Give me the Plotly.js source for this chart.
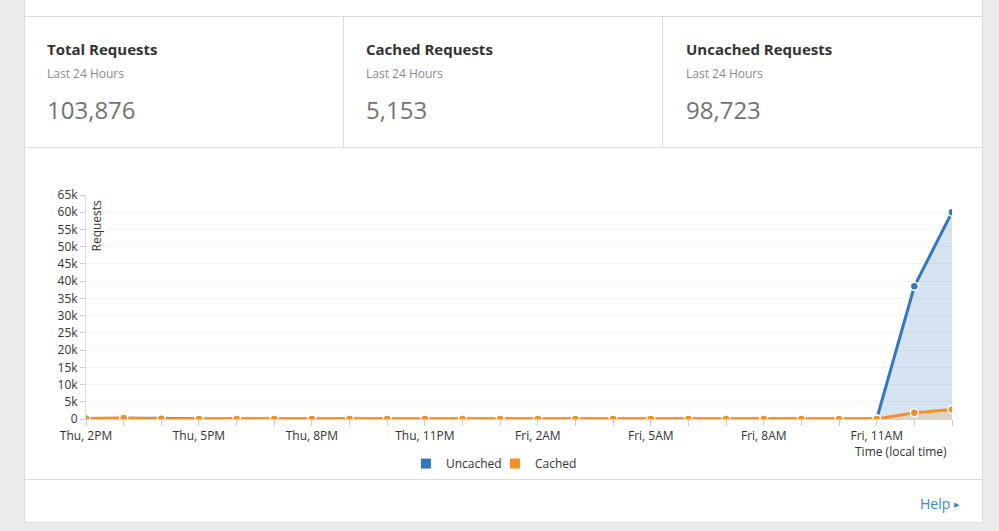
<!DOCTYPE html>
<html>
<head>
<meta charset="utf-8">
<script src="https://cdn.plot.ly/plotly-3.0.1.min.js"></script>
<style>
  html, body { margin: 0; padding: 0; background: #ebebeb; font-family: "Open Sans", sans-serif; }
  body { width: 999px; height: 531px; position: relative; overflow: hidden; }
  .panel { position: absolute; left: 24px; top: 0; width: 957px; height: 522px; background: #fff;
           border-left: 1px solid #dcdcdc; border-right: 1px solid #dcdcdc; border-bottom: 1px solid #dcdcdc; }
  .hline { position: absolute; left: 0; width: 957px; height: 1px; background: #dcdcdc; }
  .vline { position: absolute; width: 1px; background: #dcdcdc; top: 17px; height: 130px; }
  .stat-title { position: absolute; font-size: 15px; font-weight: 700; color: #333; white-space: nowrap; line-height: 20px; }
  .stat-sub { position: absolute; font-size: 12px; color: #8a8a8a; white-space: nowrap; line-height: 16px; }
  .stat-num { position: absolute; font-size: 24px; color: #737373; white-space: nowrap; line-height: 33px; }
  #chart { position: absolute; left: 0; top: 148px; width: 957px; height: 331px; }
  .help { position: absolute; left: 895px; top: 494px; font-size: 14px; color: #3a87c8; white-space: nowrap; line-height: 19px; }
  .help span { font-size: 7px; vertical-align: 2px; margin-left: 4px; }
</style>
</head>
<body>
<div class="panel">
  <div class="hline" style="top:16px"></div>
  <div class="vline" style="left:318px"></div>
  <div class="vline" style="left:637px"></div>
  <div class="hline" style="top:147px"></div>
  <div class="hline" style="top:479px"></div>
  <div id="stats"></div>
  <div id="chart"></div>
  <div class="help">Help<span>&#9654;</span></div>
</div>
<script>
// ---- data ----
const statTitles = ["Total Requests", "Cached Requests", "Uncached Requests"];
const statSubtitle = "Last 24 Hours";
const statValues = ["103,876", "5,153", "98,723"];

const hours = ["Thu, 2PM","Thu, 3PM","Thu, 4PM","Thu, 5PM","Thu, 6PM","Thu, 7PM","Thu, 8PM","Thu, 9PM",
  "Thu, 10PM","Thu, 11PM","Fri, 12AM","Fri, 1AM","Fri, 2AM","Fri, 3AM","Fri, 4AM","Fri, 5AM","Fri, 6AM",
  "Fri, 7AM","Fri, 8AM","Fri, 9AM","Fri, 10AM","Fri, 11AM","Fri, 12PM","Fri, 1PM"];
const tickLabels = ["Thu, 2PM","Thu, 5PM","Thu, 8PM","Thu, 11PM","Fri, 2AM","Fri, 5AM","Fri, 8AM","Fri, 11AM"];

const uncached = [180, 280, 230, 0, 0, 0, 0, 0, 0, 0, 0, 0, 0, 0, 0, 0, 0, 0, 0, 0, 0, 0, 38500, 60000];
const cached   = [120, 300, 90, 15, 10, 10, 10, 10, 10, 10, 10, 10, 10, 10, 10, 10, 10, 10, 10, 10, 10, 10, 1800, 2780];

const seriesNames = ["Uncached", "Cached"];
const yTitle = "Requests";
const xTitle = "Time (local time)";

// ---- stats header ----
const stats = document.getElementById("stats");
const colLefts = [22, 341, 661];
statTitles.forEach((t, i) => {
  const a = document.createElement("div"); a.className = "stat-title"; a.textContent = t;
  a.style.left = colLefts[i] + "px"; a.style.top = "39px"; stats.appendChild(a);
  const b = document.createElement("div"); b.className = "stat-sub"; b.textContent = statSubtitle;
  b.style.left = colLefts[i] + "px"; b.style.top = "66px"; stats.appendChild(b);
  const c = document.createElement("div"); c.className = "stat-num"; c.textContent = statValues[i];
  c.style.left = colLefts[i] + "px"; c.style.top = "93px"; stats.appendChild(c);
});

// ---- chart ----
const blue = "#3178c0", orange = "#f48f24";
const traces = [
  { type: "scatter", mode: "lines+markers", x: hours, y: uncached, name: seriesNames[0], showlegend: false,
    line: { color: blue, width: 3 }, fill: "tozeroy", fillcolor: "rgba(49,121,192,0.2)",
    marker: { color: blue, size: 8, line: { color: "#fff", width: 1.5 } }, hoverinfo: "x+y" },
  { type: "scatter", mode: "lines+markers", x: hours, y: cached, name: seriesNames[1], showlegend: false,
    line: { color: orange, width: 3 }, fill: "tozeroy", fillcolor: "rgba(244,143,36,0.2)",
    marker: { color: orange, size: 8, line: { color: "#fff", width: 1.5 } }, hoverinfo: "x+y" },
  { type: "scatter", mode: "markers", x: [null], y: [null], name: seriesNames[0],
    marker: { color: blue, symbol: "square", size: 10 } },
  { type: "scatter", mode: "markers", x: [null], y: [null], name: seriesNames[1],
    marker: { color: orange, symbol: "square", size: 10 } }
];

const font = { family: "Open Sans, sans-serif", size: 12, color: "#333" };
const layout = {
  width: 957, height: 331,
  margin: { l: 61, r: 30, t: 47, b: 60, autoexpand: false },
  paper_bgcolor: "#fff", plot_bgcolor: "#fff",
  font: font,
  showlegend: true,
  legend: { orientation: "h", x: 0.4722, xanchor: "center", y: -0.199, yanchor: "middle",
            font: font, itemwidth: 30, traceorder: "normal", entrywidth: 44, entrywidthmode: "pixels" },
  xaxis: {
    type: "category", range: [0, hours.length - 1],
    tickvals: hours, ticktext: hours.map(h => tickLabels.includes(h) ? h : ""),
    ticks: "outside", ticklen: 6, tickcolor: "#cccccc", showgrid: false,
    showline: true, linecolor: "#d4d4d4", linewidth: 1, zeroline: false,
    tickfont: font, fixedrange: true
  },
  yaxis: {
    range: [0, 65000], tick0: 0, dtick: 5000, tickformat: "~s",
    ticks: "outside", ticklen: 5, tickcolor: "#cccccc",
    showgrid: true, gridcolor: "#f3f3f3", zeroline: false,
    showline: true, linecolor: "#dddddd", tickfont: font, fixedrange: true
  },
  yaxis2: {
    overlaying: "y", range: [0, 65000], tick0: 5000, dtick: 10000,
    showticklabels: false, ticks: "", showgrid: true, gridcolor: "#d9d9d9",
    zeroline: false, showline: false, fixedrange: true
  },
  annotations: [
    { text: yTitle, xref: "paper", yref: "paper", x: 0, y: 1, xanchor: "left", yanchor: "top",
      textangle: -90, showarrow: false, xshift: -1, yshift: -3, font: font },
    { text: xTitle, xref: "paper", yref: "paper", x: 1, y: 0, xanchor: "right", yanchor: "middle",
      showarrow: false, xshift: -3, yshift: -32, font: font }
  ]
};

Plotly.newPlot("chart", traces, layout, { displayModeBar: false, staticPlot: true });
</script>
</body>
</html>
